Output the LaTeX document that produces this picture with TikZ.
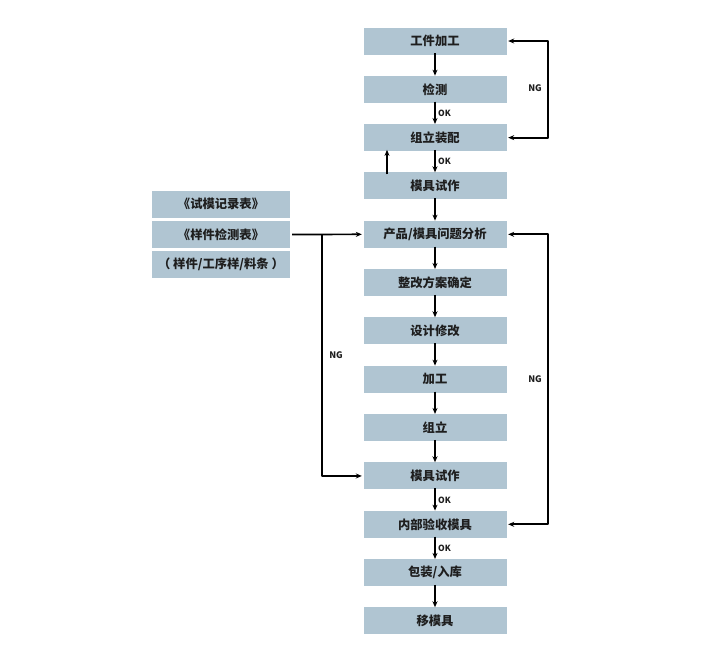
\documentclass[tikz,border=0pt]{standalone}
\usepackage{fontspec}
\newfontfamily\cjk{Noto Sans CJK SC}
\usetikzlibrary{arrows.meta,calc}
\definecolor{boxblue}{RGB}{176,197,210}
\definecolor{txtgray}{RGB}{30,30,30}
\begin{document}
\begin{tikzpicture}[x=1pt, y=-1pt, line join=round, >={Stealth[length=6pt,width=5pt]},
  font=\cjk\bfseries\fontsize{12.3}{14}\selectfont,
  flowbox/.style={fill=boxblue, text=txtgray, minimum width=143pt, minimum height=27pt, inner sep=0pt},
  notebox/.style={flowbox, minimum width=138pt},
  flow/.style={->, line width=1.7pt},
  tag/.style={font=\cjk\bfseries\fontsize{8.5}{9}\selectfont, text=txtgray, inner sep=1pt}]
\def\xmid{435} \def\ytop{41} \def\dy{48.33}
\useasboundingbox (0,0) rectangle (720,664);
% main column
\foreach \name/\txt [count=\i from 0] in {gj/工件加工, jc/检测, zl/组立装配, ms/模具试作,
    fx/{产品/模具问题分析}, zg/整改方案确定, sj/设计修改, jg/加工, zlb/组立,
    msb/模具试作, ys/内部验收模具, bz/{包装/入库}, yi/移模具}
  \node[flowbox] (\name) at (\xmid,{\ytop+\dy*\i}) {\txt};
% records on the left
\node[notebox] (jl) at (221,204) {《试模记录表》};
\node[notebox] (jb) at (221,234.5) {《样件检测表》};
\node[notebox] (yp) at (221,264.5) {（ 样件/工序样/料条 ）};
% straight arrows
\foreach \a/\b in {gj/jc, jc/zl, zl/ms, ms/fx, fx/zg, zg/sj, sj/jg, jg/zlb, zlb/msb, msb/ys, ys/bz, bz/yi}
  \draw[flow] ([yshift=1.5pt]\a.south) -- (\b.north);
\node[tag, anchor=west] at ([xshift=2pt]$(jc.south)!0.5!(zl.north)$) {OK};
\node[tag, anchor=west] at ([xshift=2pt]$(zl.south)!0.5!(ms.north)$) {OK};
\node[tag, anchor=west] at ([xshift=2pt]$(msb.south)!0.5!(ys.north)$) {OK};
\node[tag, anchor=west] at ([xshift=2pt]$(ys.south)!0.5!(bz.north)$) {OK};
\draw[flow] ([xshift=-48pt,yshift=-2pt]ms.north) -- ([xshift=-48pt,yshift=1.5pt]zl.south);
% NG loops
\draw[flow, <->] ([xshift=1.5pt]gj.east) -- ++(40,0) |- ([xshift=1.5pt]zl.east);
\node[tag, font=\cjk\bfseries\fontsize{9}{10}\selectfont] at (535,88) {NG};
\draw[flow, <->] ([xshift=1.5pt]fx.east) -- ++(40,0) |- ([xshift=1.5pt]ys.east);
\node[tag, font=\cjk\bfseries\fontsize{9}{10}\selectfont] at (535,379) {NG};
\coordinate (ng) at (322,234.5);
\draw[flow] ([xshift=2pt]jb.east) -- ([xshift=-1.5pt]fx.west);
\draw[flow] (ng) |- ([xshift=-1.5pt]msb.west);
\node[tag, font=\cjk\bfseries\fontsize{9}{10}\selectfont] at (336,355) {NG};
\end{tikzpicture}
\end{document}
